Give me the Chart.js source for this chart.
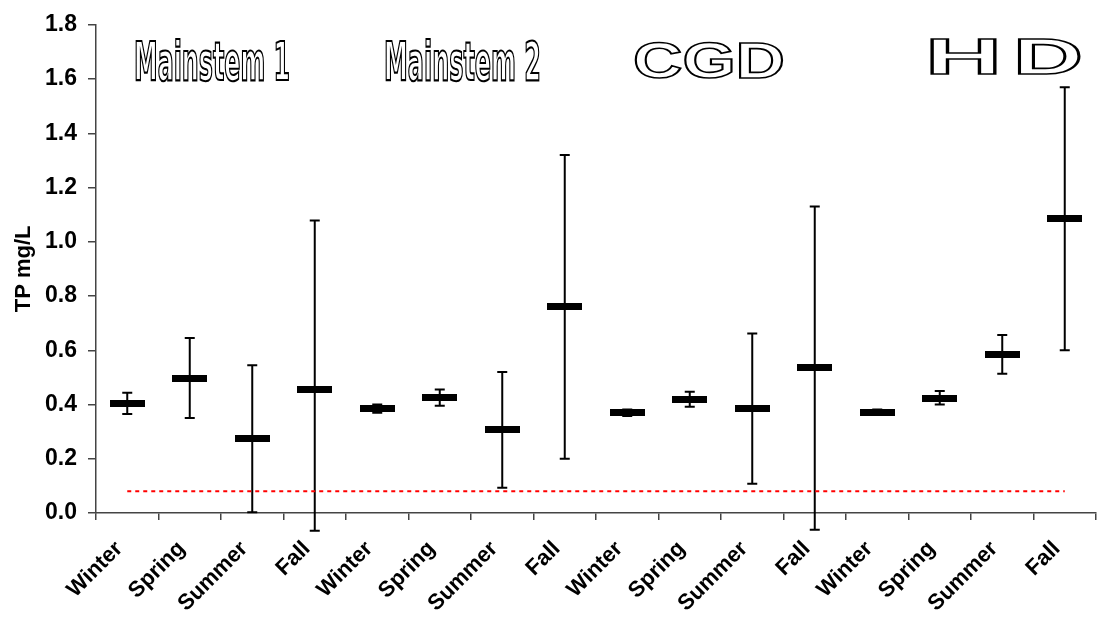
<!DOCTYPE html>
<html>
<head>
<meta charset="utf-8">
<script src="https://cdn.jsdelivr.net/npm/chart.js"></script>
<style>
  html, body { margin: 0; padding: 0; background: #fff; }
  #wrap { width: 1107px; height: 617px; }
</style>
</head>
<body>
<div id="wrap"><canvas id="grafica"></canvas></div>
<script>
// categorias (4 sitios x 4 estaciones)
const estaciones = ["Winter", "Spring", "Summer", "Fall",
                    "Winter", "Spring", "Summer", "Fall",
                    "Winter", "Spring", "Summer", "Fall",
                    "Winter", "Spring", "Summer", "Fall"];

// media y extremos de TP (mg/L)
const medias   = [0.405, 0.497, 0.275, 0.456, 0.385, 0.425, 0.307, 0.760, 0.370, 0.420, 0.387, 0.535, 0.372, 0.424, 0.583, 1.085];
const maximos  = [0.443, 0.645, 0.545, 1.078, 0.400, 0.455, 0.520, 1.320, 0.382, 0.447, 0.662, 1.130, 0.382, 0.450, 0.656, 1.570];
const minimos  = [0.365, 0.350, 0.003, -0.065, 0.370, 0.395, 0.093, 0.200, 0.358, 0.392, 0.108, -0.062, 0.362, 0.400, 0.513, 0.600];

// sitios
const sitios = ["Mainstem 1", "Mainstem 2", "CGD", "H", "D"];

const limite = 0.08;
const yTicks = [0, 0.2, 0.4, 0.6, 0.8, 1.0, 1.2, 1.4, 1.6, 1.8];

const fuente = "Arial, 'Liberation Sans', sans-serif";

// marca de la media: rectangulo negro
const marca = document.createElement("canvas");
marca.width = 35;
marca.height = 7;
const mctx = marca.getContext("2d");
mctx.fillStyle = "#000";
mctx.fillRect(0, 0, 35, 7);

// barras de error
const barrasError = {
  id: "barrasError",
  beforeDatasetsDraw(chart) {
    const ctx = chart.ctx;
    const x = chart.scales.x, y = chart.scales.y;
    ctx.save();
    ctx.strokeStyle = "#000";
    ctx.lineWidth = 2;
    medias.forEach((m, i) => {
      const px = x.getPixelForValue(i);
      const top = y.getPixelForValue(maximos[i]);
      const bot = y.getPixelForValue(minimos[i]);
      ctx.beginPath();
      ctx.moveTo(px, top);
      ctx.lineTo(px, bot);
      ctx.moveTo(px - 5, top);
      ctx.lineTo(px + 5, top);
      ctx.moveTo(px - 5, bot);
      ctx.lineTo(px + 5, bot);
      ctx.stroke();
    });
    ctx.restore();
  }
};

// titulos de sitio con letra hueca
const rotulos = {
  id: "rotulos",
  afterDraw(chart) {
    const ctx = chart.ctx;
    const narrow = "bold 54px 'Liberation Sans Narrow', 'DejaVu Sans Condensed', sans-serif";
    const ancha = "bold 50px 'Liberation Sans', Arial, sans-serif";
    const cajas = [
      { x: 134, w: 156, base: 80, font: narrow, lw: 2.2 },
      { x: 384, w: 157, base: 80, font: narrow, lw: 2.2 },
      { x: 633, w: 152, base: 78, font: ancha, lw: 1.6 },
      { x: 925, w: 77, base: 74, font: ancha, lw: 1.6 },
      { x: 1013, w: 70, base: 74, font: ancha, lw: 1.6 }
    ];
    ctx.save();
    ctx.textBaseline = "alphabetic";
    ctx.textAlign = "left";
    sitios.forEach((s, i) => {
      const c = cajas[i];
      ctx.font = c.font;
      const w = ctx.measureText(s).width;
      ctx.save();
      ctx.translate(c.x, c.base);
      ctx.scale(c.w / w, 1);
      ctx.fillStyle = "#fff";
      ctx.fillText(s, 0, 0);
      ctx.strokeStyle = "#000";
      ctx.lineWidth = c.lw;
      ctx.strokeText(s, 0, 0);
      ctx.restore();
    });
    ctx.restore();
  }
};

new Chart(document.getElementById("grafica"), {
  type: "line",
  data: {
    labels: estaciones,
    datasets: [
      {
        label: "limite",
        data: estaciones.map(() => limite),
        borderColor: "#ff0000",
        borderWidth: 2,
        borderDash: [4, 4],
        pointRadius: 0,
        fill: false
      },
      {
        label: "TP",
        data: medias,
        showLine: false,
        pointStyle: marca,
        pointRadius: 10
      }
    ]
  },
  options: {
    responsive: true,
    maintainAspectRatio: false,
    animation: false,
    layout: { padding: { top: 21, right: 4, left: 0, bottom: 0 } },
    plugins: {
      legend: { display: false },
      tooltip: { enabled: false }
    },
    scales: {
      x: {
        type: "category",
        offset: true,
        grid: { offset: true, drawOnChartArea: false, drawTicks: true, tickLength: 7, color: "#444", lineWidth: 1.5 },
        border: { color: "#444", width: 1.5 },
        ticks: {
          color: "#000",
          font: { family: fuente, weight: "bold", size: 22 },
          maxRotation: 45,
          minRotation: 45,
          autoSkip: false,
          labelOffset: -8,
          padding: 16
        },
        afterFit(scale) { scale.height = 104; }
      },
      y: {
        min: 0,
        max: 1.8,
        afterBuildTicks(scale) { scale.ticks = yTicks.map(v => ({ value: v })); },
        grid: { drawOnChartArea: false, drawTicks: true, tickLength: 8, color: "#444", lineWidth: 1.5 },
        border: { color: "#444", width: 1.5 },
        ticks: {
          color: "#000",
          font: { family: fuente, weight: "bold", size: 23 },
          padding: 11,
          callback: v => Number(v).toFixed(1)
        },
        title: {
          display: true,
          text: "TP mg/L",
          color: "#000",
          font: { family: fuente, weight: "bold", size: 22 },
          padding: { top: 11, bottom: 0 }
        },
        afterFit(scale) { scale.width = 96; }
      }
    }
  },
  plugins: [barrasError, rotulos]
});
</script>
</body>
</html>
